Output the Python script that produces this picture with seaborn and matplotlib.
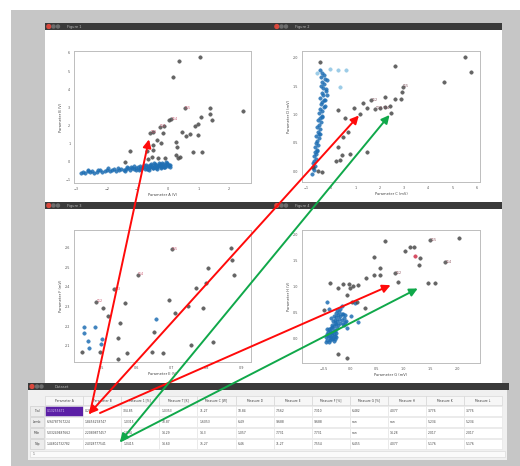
import matplotlib
matplotlib.use("Agg")
import matplotlib.pyplot as plt
import seaborn as sns
import pandas as pd
from matplotlib.patches import Rectangle, Circle

# ---------------- panel 1 : Parameter A vs Parameter B ----------------
tl_blue_x = [-2.85, -2.78, -2.70, -2.62, -2.55, -2.47, -2.40, -2.31, -2.22, -2.15,
             -2.06, -1.98, -1.90, -1.83, -1.75, -1.68, -1.60, -1.52, -1.45, -1.38,
             -1.30, -1.24, -1.17, -1.10, -1.04, -0.98, -0.92, -0.86, -0.81, -0.76,
             -0.71, -0.66, -0.61, -0.57, -0.52, -0.48, -0.44, -0.40, -0.36, -0.32,
             -0.28, -0.24, -0.20, -0.16, -0.12, -0.08, -0.04, 0.00, 0.04, 0.08,
             -2.60, -2.30, -1.95, -1.62, -1.35, -1.12, -0.90, -0.70, -0.55, -0.42,
             -0.30, -0.18, -0.06, -1.40, -0.95, -0.65, -0.35, -0.10,
             -0.88, -0.78, -0.68, -0.58, -0.50, -0.46, -0.38, -0.26, -0.22, -0.14,
             -0.02, 0.06, -1.20, -1.05, -0.62]
tl_blue_y = [-0.60, -0.55, -0.63, -0.52, -0.58, -0.50, -0.61, -0.54, -0.47, -0.57,
             -0.50, -0.44, -0.53, -0.46, -0.40, -0.51, -0.43, -0.38, -0.48, -0.41,
             -0.36, -0.45, -0.33, -0.42, -0.37, -0.30, -0.40, -0.34, -0.27, -0.38,
             -0.31, -0.25, -0.35, -0.28, -0.22, -0.33, -0.26, -0.19, -0.30, -0.24,
             -0.17, -0.28, -0.21, -0.14, -0.26, -0.19, -0.12, -0.24, -0.16, -0.20,
             -0.48, -0.45, -0.36, -0.33, -0.29, -0.24, -0.21, -0.17, -0.12, -0.10,
             -0.08, -0.05, -0.03, -0.52, -0.44, -0.38, -0.42, -0.30,
             -0.32, -0.20, -0.40, -0.15, -0.36, -0.09, -0.33, -0.10, -0.35, -0.31,
             -0.07, -0.30, -0.26, -0.46, -0.45]
tl_gray_x = [0.35, 1.04, 0.16, 1.37, 2.47, 1.39, 1.43, 1.07, 0.88, 0.99, 0.99, 0.74,
             0.47, 0.60, 0.05, -0.14, -0.49, -0.16, -0.35, -0.22, -0.50, -0.68, -0.49,
             0.28, 0.30, 0.28, 0.33, 0.83, 1.12, -1.25, -0.52, -0.32, -0.08, -0.66,
             -1.39, 0.41]
tl_gray_y = [5.56, 5.76, 4.66, 2.98, 2.82, 2.64, 2.29, 2.49, 1.98, 2.09, 1.48, 1.52,
             1.63, 1.44, 2.31, 1.96, 1.63, 1.57, 1.20, 1.02, 0.93, 0.60, 0.65,
             1.11, 0.83, 0.38, 0.23, 0.53, 0.53, 0.60, 0.28, 0.20, 0.23, 0.16,
             0.00, 0.27]
tl_lab_x = [-0.57, -0.27, 0.10, 0.55]
tl_lab_y = [1.61, 1.94, 2.36, 2.95]
tl_lab_txt = ["T12", "T13", "T14", "T15"]

# ---------------- panel 2 : Parameter C vs Parameter D ----------------
tr_blue_x = [-0.76, -0.70, -0.74, -0.66, -0.72, -0.68, -0.62, -0.71, -0.60, -0.66,
             -0.56, -0.64, -0.52, -0.60, -0.57, -0.48, -0.62, -0.50, -0.55, -0.44,
             -0.58, -0.47, -0.40, -0.52, -0.43, -0.36, -0.50, -0.38, -0.45, -0.30,
             -0.41, -0.35, -0.26, -0.44, -0.32, -0.38, -0.22, -0.34, -0.40, -0.28,
             -0.36, -0.24, -0.42, -0.30, -0.38, -0.46,
             -0.58, -0.45, -0.35, -0.28, -0.20, -0.18, -0.25, -0.15]
tr_blue_y = [-0.05, 0.02, 0.06, 0.10, 0.14, 0.18, 0.22, 0.26, 0.30, 0.34,
             0.38, 0.42, 0.46, 0.50, 0.54, 0.58, 0.62, 0.66, 0.70, 0.74,
             0.78, 0.82, 0.86, 0.90, 0.94, 0.98, 1.02, 1.06, 1.10, 1.14,
             1.18, 1.22, 1.26, 1.30, 1.34, 1.38, 1.42, 1.46, 1.50, 1.54,
             1.58, 1.62, 1.66, 1.70, 1.74, 1.78,
             0.35, 0.65, 0.95, 1.25, 1.45, 1.60, 1.15, 1.35]
tr_light_x = [-0.05, 0.30, 0.62, -0.59, 0.37]
tr_light_y = [1.80, 1.78, 1.79, 1.74, 1.49]
tr_gray_x = [2.63, 5.54, 5.76, 4.65, 2.91, 2.88, 2.63, 2.22, 1.33, 1.47, 0.96, 1.21,
             0.58, 0.28, 2.02, 2.22, 2.43, 2.47, 0.71, 0.51, 0.30, 0.47, 0.78, 0.23,
             0.37, 1.47, -0.38, -0.52, -0.73, -0.45]
tr_gray_y = [1.86, 2.01, 1.75, 1.57, 1.40, 1.28, 1.28, 1.31, 1.20, 1.11, 1.12, 1.01,
             0.93, 1.08, 1.12, 1.14, 1.15, 1.02, 0.69, 0.61, 0.43, 0.28, 0.31, 0.18,
             0.19, 0.34, -0.01, 0.00, 0.08, 1.93]
tr_lab_x = [1.65, 1.81, 2.95]
tr_lab_y = [1.25, 1.10, 1.49]
tr_lab_txt = ["T12", "T13 T14", "T15"]

# ---------------- panel 3 : Parameter E vs Parameter F ----------------
bl_blue_x = [0.449, 0.450, 0.462, 0.465, 0.481, 0.500, 0.497, 0.655]
bl_blue_y = [2.194, 2.163, 2.124, 2.090, 2.194, 2.134, 2.110, 2.236]
bl_gray_x = [0.443, 0.495, 0.871, 0.805, 0.878, 0.798, 0.769, 0.874, 0.692, 0.747,
             0.790, 0.711, 0.567, 0.503, 0.517, 0.552, 0.546, 0.650, 0.643, 0.676,
             0.573, 0.547, 0.817, 0.755]
bl_gray_y = [2.069, 2.066, 2.600, 2.498, 2.461, 2.418, 2.393, 2.537, 2.333, 2.303,
             2.291, 2.265, 2.316, 2.291, 2.253, 2.214, 2.141, 2.171, 2.069, 2.064,
             2.064, 2.032, 2.117, 2.104]
bl_lab_x = [0.484, 0.536, 0.603, 0.700]
bl_lab_y = [2.324, 2.388, 2.461, 2.593]
bl_lab_txt = ["T12", "T13", "T14", "T15"]

# ---------------- panel 4 : Parameter G vs Parameter H ----------------
br_blue_x = [-0.46, -0.43, -0.40, -0.37, -0.34, -0.31, -0.28, -0.45, -0.41, -0.38,
             -0.35, -0.32, -0.29, -0.26, -0.44, -0.39, -0.36, -0.33, -0.30, -0.27,
             -0.42, -0.37, -0.34, -0.31, -0.40, -0.35, -0.29, -0.25, -0.43, -0.33,
             -0.34, -0.30, -0.26, -0.22, -0.18, -0.14, -0.10, -0.32, -0.28, -0.24,
             -0.20, -0.16, -0.12, -0.08, -0.30, -0.26, -0.22, -0.18, -0.14, -0.35,
             -0.27, -0.21, -0.15, -0.09, -0.24, -0.19, -0.29, -0.12,
             -0.44, -0.40, 0.09, -0.15, 0.15, 0.02, -0.05]
br_blue_y = [-0.05, -0.02, -0.06, -0.03, 0.00, -0.04, -0.01, 0.03, 0.05, 0.01,
             0.04, 0.02, 0.06, 0.03, 0.09, 0.08, 0.11, 0.07, 0.10, 0.12,
             0.14, 0.15, 0.13, 0.17, 0.19, 0.20, 0.16, 0.21, 0.18, 0.23,
             0.26, 0.24, 0.29, 0.27, 0.31, 0.28, 0.33, 0.35, 0.37, 0.34,
             0.38, 0.36, 0.40, 0.35, 0.44, 0.42, 0.46, 0.43, 0.48, 0.40,
             0.50, 0.52, 0.47, 0.45, 0.55, 0.58, 0.31, 0.26,
             0.71, 0.58, 0.68, 0.62, 0.32, 0.44, 0.21]
br_gray_x = [0.655, 2.03, 1.03, 1.12, 1.19, 0.44, 1.31, 1.28, 0.55, 0.30, 0.44, 0.56,
             0.90, 1.45, 1.59, -0.37, -0.23, -0.14, -0.03, 0.06, 0.14, 0.00, -0.06,
             0.03, 0.13, 0.28, -0.22, -0.06, -0.49]
br_gray_y = [1.87, 1.93, 1.67, 1.76, 1.76, 1.57, 1.54, 1.41, 1.35, 1.17, 1.22, 1.22,
             1.09, 1.06, 1.06, 1.06, 0.97, 1.04, 1.04, 1.02, 1.03, 0.97, 0.83,
             0.71, 0.70, 0.59, -0.29, -0.37, 0.55]
br_red_x = [1.22]
br_red_y = [1.59]
br_lab_x = [1.50, 1.78, 0.84]
br_lab_y = [1.88, 1.46, 1.25]
br_lab_txt = ["T15", "T14", "T12"]

# ---------------- dataset table ----------------
row_names = ["Tcal", "Lamb", "Mdn", "Tdp"]
col_names = ["Parameter A", "Parameter B", "Measure 1 [%]", "Measure T [K]",
             "Measure C [W]", "Measure D", "Measure E", "Measure F [%]",
             "Measure G [%]", "Measure H", "Measure K", "Measure L"]
cell_text = [
    ["0.13255671", "0.2851", "304.85", "1.0353", "71.27", "10.84", "7.562", "7.310", "6.482", "4.077", "3.776", "3.776"],
    ["6.94787767224", "1.8456258747", "1.0315", "10.87", "1.6053", "6.49", "9.688", "9.688", "nan", "nan", "5.234", "5.234"],
    ["5.03249487662", "2.2089877457", "1.094", "14.29", "14.3", "1.057", "7.731", "7.731", "nan", "14.28", "2.017", "2.017"],
    ["1.44802732782", "2.4328777541", "1.0415", "14.60", "75.27", "6.46", "71.27", "7.554", "6.455", "4.077", "5.176", "5.176"],
]

W, H = 520, 466
sns.set_style("white")
plt.rcParams["font.family"] = ["DejaVu Sans"]

fig = plt.figure(figsize=(W / 100, H / 100), dpi=100)
fig.patch.set_facecolor("white")

bg = fig.add_axes([0, 0, 1, 1])
bg.set_xlim(0, W)
bg.set_ylim(H, 0)
bg.axis("off")


def box(x0, y0, x1, y1, fc, ec="none", lw=0.0, z=1):
    bg.add_patch(Rectangle((x0, y0), x1 - x0, y1 - y0, facecolor=fc,
                           edgecolor=ec, linewidth=lw, zorder=z))


def window(x0, y0, x1, y1, title):
    box(x0, y0 + 7, x1, y1, "white", z=2)
    box(x0, y0, x1, y0 + 7, "#3a3a3a", z=3)
    bg.add_patch(Circle((x0 + 3.8, y0 + 3.5), 1.9, color="#d9473c", zorder=4))
    bg.add_patch(Circle((x0 + 8.5, y0 + 3.5), 1.5, color="#6d6d6d", zorder=4))
    bg.add_patch(Circle((x0 + 13, y0 + 3.5), 1.5, color="#6d6d6d", zorder=4))
    bg.text(x0 + 22, y0 + 3.6, title, fontsize=2.6, color="#b8b8b8",
            va="center", ha="left", zorder=5)


# screen background
box(11, 10, W, H, "#c6c6c6", z=0)

window(45, 23, 273, 202, "Figure 1")
window(273, 23, 502, 202, "Figure 2")
window(45, 202, 273, 383, "Figure 3")
window(273, 202, 502, 383, "Figure 4")

# dataset window
box(28, 383, 509, 390, "#3a3a3a", z=3)
box(28, 390, 507, 460, "#f0f0f0", z=2)
bg.add_patch(Circle((32, 386.5), 1.9, color="#d9473c", zorder=4))
bg.add_patch(Circle((37, 386.5), 1.5, color="#6d6d6d", zorder=4))
bg.add_patch(Circle((41.5, 386.5), 1.5, color="#6d6d6d", zorder=4))
bg.text(55, 386.6, "Dataset", fontsize=2.6, color="#b8b8b8", va="center", zorder=5)

col_x0, col_w = 45.0, 38.1
hdr_y0, hdr_y1 = 396, 405
row_h = 11
for j, name in enumerate(col_names):
    cx = col_x0 + j * col_w
    box(cx, hdr_y0, cx + col_w, hdr_y1, "#f7f7f7", "#d2d2d2", 0.4, z=3)
    bg.text(cx + col_w / 2, (hdr_y0 + hdr_y1) / 2, name, fontsize=2.2,
            color="#444444", ha="center", va="center", zorder=4)
for i, rname in enumerate(row_names):
    ry = hdr_y1 + 1 + i * row_h
    box(30, ry, 44, ry + row_h - 1, "#ececec", "#c8c8c8", 0.4, z=3)
    bg.text(37, ry + (row_h - 1) / 2, rname, fontsize=2.2, color="#444444",
            ha="center", va="center", zorder=4)
    for j, val in enumerate(cell_text[i]):
        cx = col_x0 + j * col_w
        selected = (i == 0 and j == 0)
        box(cx, ry, cx + col_w, ry + row_h - 1,
            "#5b1fa6" if selected else "white", "#e2e2e2", 0.4, z=3)
        bg.text(cx + 2, ry + (row_h - 1) / 2, val, fontsize=2.2,
                color="#d8c8f0" if selected else "#444444",
                ha="left", va="center", zorder=4)
box(30, 451, 505, 457, "#fafafa", "#d6d6d6", 0.4, z=3)
bg.text(33, 454, "1", fontsize=2.2, color="#555555", va="center", zorder=4)


def px_axes(x0, y0, x1, y1):
    return fig.add_axes([x0 / W, 1 - y1 / H, (x1 - x0) / W, (y1 - y0) / H], zorder=5)


def style(ax, xlim, ylim, xticks, yticks, xlabel, ylabel):
    ax.set_xlim(*xlim)
    ax.set_ylim(*ylim)
    ax.set_xticks(xticks)
    ax.set_yticks(yticks)
    ax.set_xlabel(xlabel, fontsize=2.6, color="#444444", labelpad=1.5)
    ax.set_ylabel(ylabel, fontsize=2.6, color="#444444", labelpad=1.5)
    ax.tick_params(labelsize=2.4, colors="#555555", length=1.2, width=0.3, pad=1.5)
    for s in ax.spines.values():
        s.set_color("#bdbdbd")
        s.set_linewidth(0.7)
    ax.set_facecolor("white")


def scatter(ax, xs, ys, color, size=6.5, alpha=0.85):
    df = pd.DataFrame({"x": xs, "y": ys})
    sns.scatterplot(data=df, x="x", y="y", ax=ax, color=color, s=size,
                    edgecolor=color, linewidth=0.3, alpha=alpha, legend=False)


def labels(ax, xs, ys, txt, color):
    scatter(ax, xs, ys, "#505050")
    for x, y, t in zip(xs, ys, txt):
        ax.annotate(t, (x, y), xytext=(0.5, 0.3), textcoords="offset points",
                    fontsize=2.3, color=color, ha="left", va="center")


BLUE = "#1f6fb4"
GRAY = "#4a4a4a"

ax1 = px_axes(74, 51, 251, 183)
scatter(ax1, tl_blue_x, tl_blue_y, BLUE)
scatter(ax1, tl_gray_x, tl_gray_y, GRAY)
labels(ax1, tl_lab_x, tl_lab_y, tl_lab_txt, "#c8506a")
style(ax1, (-3.07, 2.72), (-1.17, 6.11), range(-3, 3), range(-1, 7),
      "Parameter A (V)", "Parameter B (V)")

ax2 = px_axes(302, 51, 480, 182)
scatter(ax2, tr_light_x, tr_light_y, "#8cc4e4")
scatter(ax2, tr_blue_x, tr_blue_y, BLUE)
scatter(ax2, tr_gray_x, tr_gray_y, GRAY)
labels(ax2, tr_lab_x, tr_lab_y, tr_lab_txt, "#7a4a55")
style(ax2, (-1.19, 6.14), (-0.19, 2.12), range(-1, 7), [0, 0.5, 1, 1.5, 2],
      "Parameter C (mV)", "Parameter D (mV)")

ax3 = px_axes(74, 230, 251, 362)
scatter(ax3, bl_blue_x, bl_blue_y, BLUE)
scatter(ax3, bl_gray_x, bl_gray_y, GRAY)
labels(ax3, bl_lab_x, bl_lab_y, bl_lab_txt, "#c8506a")
style(ax3, (0.421, 0.927), (2.017, 2.69), [0.5, 0.6, 0.7, 0.8, 0.9],
      [2.1, 2.2, 2.3, 2.4, 2.5, 2.6], "Parameter E (V)", "Parameter F (mV)")

ax4 = px_axes(302, 230, 480, 363)
scatter(ax4, br_blue_x, br_blue_y, BLUE)
scatter(ax4, br_gray_x, br_gray_y, GRAY)
scatter(ax4, br_red_x, br_red_y, "#d0304a")
labels(ax4, br_lab_x, br_lab_y, br_lab_txt, "#8a4a55")
style(ax4, (-0.90, 2.43), (-0.46, 2.08), [-0.5, 0, 0.5, 1.0, 1.5, 2.0],
      [0, 0.5, 1, 1.5, 2], "Parameter G (mV)", "Parameter H (V)")

# arrows from the table cells to the highlighted samples
ov = fig.add_axes([0, 0, 1, 1], zorder=20)
ov.set_xlim(0, W)
ov.set_ylim(H, 0)
ov.axis("off")
ov.patch.set_alpha(0)

RED = "#ff0a0a"
GREEN = "#10a84a"


def link(ax, xy, start, color, shrink, both=False):
    ov.annotate("", xy=xy, xycoords=ax.transData, xytext=start, textcoords="data",
                arrowprops=dict(arrowstyle="<|-|>" if both else "-|>", color=color,
                                lw=1.4, mutation_scale=12, shrinkA=0, shrinkB=shrink))


link(ax1, (tl_lab_x[0], tl_lab_y[0]), (90, 413), RED, 5)
link(ax2, (tr_gray_x[11], tr_gray_y[11]), (89, 414), RED, 1.5, both=True)
link(ax4, (br_gray_x[12], br_gray_y[12]), (100, 413), RED, 6)
link(ax2, (tr_gray_x[17], tr_gray_y[17]), (120, 442), GREEN, 1.5, both=True)
link(ax4, (br_gray_x[13], br_gray_y[13]), (121, 441), GREEN, 8)

fig.savefig("out.png", dpi=100)
